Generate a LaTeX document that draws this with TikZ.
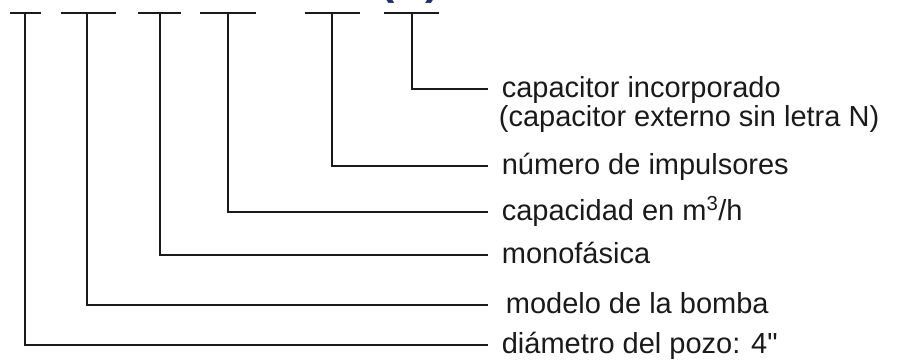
\documentclass[tikz,border=0pt]{standalone}
\usepackage{fontspec}
\setmainfont{Liberation Sans}
\newfontfamily\labelfont{Liberation Sans}
\definecolor{codeblue}{HTML}{1C2F6E}
\definecolor{ink}{HTML}{1A1A1A}
\begin{document}
\begin{tikzpicture}[x=1pt,y=-1pt,line width=1.7pt,draw=ink,
  lbl/.style={anchor=west,inner xsep=13pt,inner ysep=0pt,text=ink,
    text height=20pt,text depth=4pt,font=\labelfont\fontsize{29}{33}\selectfont}]
\useasboundingbox (0,0) rectangle (914,362);
\clip (0,0) rectangle (914,362);
% code heading (cut off at the top)
\node[anchor=base,inner sep=0pt,text=codeblue,font=\bfseries\fontsize{43}{43}\selectfont] (code) at (410,-6) {(N)};
% bars
\draw (10,13) -- (41,13);
\draw (61,13) -- (116,13);
\draw (138,13) -- (181,13);
\draw (200,13) -- (256,13);
\draw (305,13) -- (360,13);
\draw (384,13) -- (439,13);
\coordinate (s1) at (25,13);
\coordinate (s2) at (87,13);
\coordinate (s3) at (160,13);
\coordinate (s4) at (228,13);
\coordinate (s5) at (332,13);
\coordinate (s6) at (412,13);
% labels
\node[lbl] (cap) at (488,89) {capacitor incorporado};
\node[lbl,inner xsep=10pt] (ext) at (488,118) {(capacitor externo sin letra N)};
\node[lbl] (num) at (488,166) {número de impulsores};
\node[lbl] (caud) at (488,212) {capacidad en m\textsuperscript{3}/h};
\node[lbl] (mono) at (488,255) {monofásica};
\node[lbl,inner xsep=17pt] (mod) at (488,305) {modelo de la bomba};
\node[lbl] (diam) at (488,345) {diámetro del pozo: 4"};
% leaders
\draw (s6) |- (cap.west);
\draw (s5) |- (num.west);
\draw (s4) |- (caud.west);
\draw (s3) |- (mono.west);
\draw (s2) |- (mod.west);
\draw (s1) |- (diam.west);
\end{tikzpicture}
\end{document}
